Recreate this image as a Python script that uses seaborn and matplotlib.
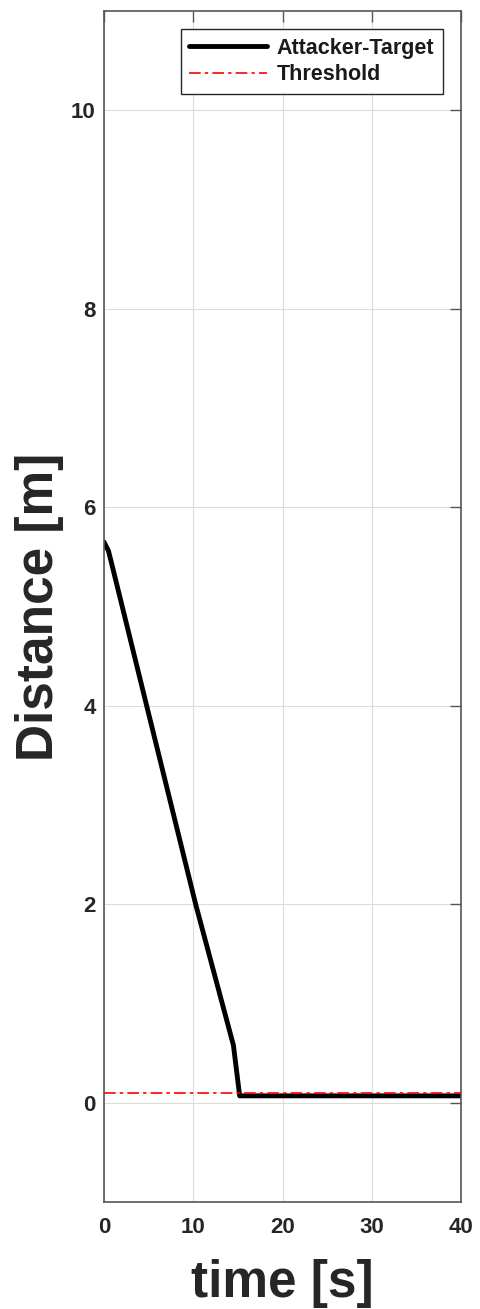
import matplotlib
matplotlib.use("Agg")
import matplotlib.pyplot as plt
import seaborn as sns
import pandas as pd

time_s = [0.0, 0.5, 1.0, 4.78, 10.27, 14.5, 15.2, 20.0, 30.0, 40.0]
distance_m = [5.65, 5.56, 5.38, 4.0, 2.0, 0.58, 0.07, 0.07, 0.07, 0.07]
threshold_t = [0.0, 40.0]
threshold_v = [0.1, 0.1]
x_ticks = [0, 10, 20, 30, 40]
y_ticks = [0, 2, 4, 6, 8, 10]

sns.set_theme(style="whitegrid")
plt.rcParams['font.family'] = ['Liberation Sans', 'DejaVu Sans']
plt.rcParams['font.weight'] = 'bold'

fig = plt.figure(figsize=(4.8, 13.09), dpi=100)
ax = fig.add_axes([0.2167, 0.0817, 0.7437, 0.9099])
ax.set_facecolor('white')

df = pd.DataFrame({'t': time_s, 'd': distance_m})
dth = pd.DataFrame({'t': threshold_t, 'd': threshold_v})
sns.lineplot(data=df, x='t', y='d', ax=ax, color='black', linewidth=3.5,
             label='Attacker-Target', sort=False)
sns.lineplot(data=dth, x='t', y='d', ax=ax, color='red', linewidth=1.2,
             linestyle=(0, (7, 2.5, 2, 2.5)), label='Threshold')

ax.set_xlim(0, 40)
ax.set_ylim(-1, 11)
ax.set_xticks(x_ticks)
ax.set_yticks(y_ticks)
ax.grid(True, color='#dcdcdc', linewidth=0.8)
for s in ax.spines.values():
    s.set_visible(True)
    s.set_color('#555555')
    s.set_linewidth(1.2)
ax.tick_params(direction='in', length=8, width=1, colors='#555555',
               top=True, right=True, labelsize=16, labelcolor='#262626')
ax.tick_params(axis='x', pad=11)
ax.tick_params(axis='y', pad=6)
for lbl in ax.get_xticklabels() + ax.get_yticklabels():
    lbl.set_fontweight('bold')
ax.set_xlabel('time [s]', fontsize=37, fontweight='bold', color='#262626', labelpad=15)
ax.set_ylabel('Distance [m]', fontsize=37, fontweight='bold', color='#262626', labelpad=5)

leg = ax.legend(loc='upper right', fontsize=15.5, handlelength=3.6, frameon=True,
                fancybox=False, edgecolor='#262626', framealpha=1,
                borderaxespad=0.85, labelspacing=0.25, borderpad=0.4,
                handletextpad=0.45)
leg.get_frame().set_linewidth(1.0)
for t in leg.get_texts():
    t.set_fontweight('bold')
    t.set_color('#1a1a1a')

fig.savefig('out.png', dpi=100)
